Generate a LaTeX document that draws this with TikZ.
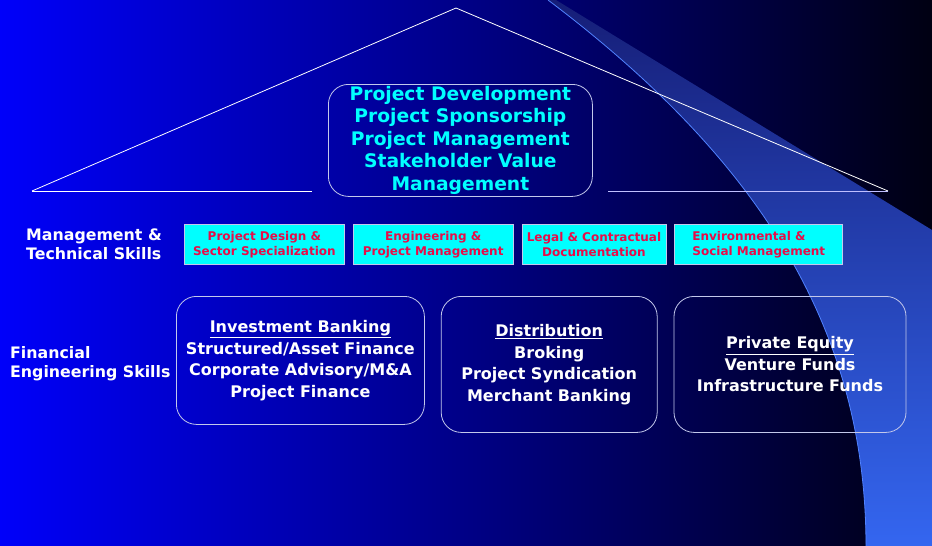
\documentclass[tikz,border=0pt]{standalone}
\usepackage{fontspec}
\setmainfont{DejaVu Sans}
\usetikzlibrary{positioning,calc}
\definecolor{deepblue}{RGB}{0,0,250}
\definecolor{nightblue}{RGB}{0,0,18}
\definecolor{bandlight}{RGB}{52,102,240}
\definecolor{banddark}{RGB}{22,30,120}
\definecolor{bandedge}{RGB}{80,130,255}
\definecolor{skillred}{RGB}{232,12,72}
\definecolor{skillcyan}{RGB}{0,255,255}
\definecolor{rim}{RGB}{195,200,235}
\tikzstyle{roof}=[white, line width=0.8pt]
\tikzstyle{side}=[text=white, inner sep=0pt, align=left, font=\fontsize{15.8}{19}\selectfont\bfseries]
\tikzstyle{skill}=[draw=rim, fill=skillcyan, line width=0.8pt, minimum height=40pt, inner sep=0pt, text=skillred, align=center, font=\fontsize{12}{15}\selectfont\bfseries]
\tikzstyle{field}=[draw=rim, rounded corners=20pt, line width=0.8pt, inner sep=0pt, text=white, align=center, font=\fontsize{16}{21.5}\selectfont\bfseries]

\begin{document}
\begin{tikzpicture}[x=1pt, y=-1pt]
        \useasboundingbox (0,0) rectangle (932,546);
        \shade[left color=deepblue, right color=nightblue] (0,0) rectangle (932,546);
        % curved band on the right
        \shade[top color=banddark, middle color=bandlight, bottom color=bandlight]
            (548,0) .. controls (760,160) and (866,330) .. (866,546) -- (932,546) -- (932,230) -- (556,0) -- cycle;
        \draw[bandedge, line width=0.8pt] (548,0) .. controls (760,160) and (866,330) .. (866,546);
        % roof
        \coordinate (apex) at (456,8);
        \coordinate (eaveL) at (32,191);
        \coordinate (eaveR) at (888,191);
        \coordinate (baseL) at (312,191);
        \coordinate (baseR) at (608,191);
        \draw[roof] (eaveL) -- (apex) -- (eaveR);
        \draw[roof] (eaveL) -- (baseL);
        \draw[roof, white!75!blue] (baseR) -- (eaveR);
        \node (mission) [field, text=skillcyan, minimum width=264pt, minimum height=112pt, anchor=north west, font=\fontsize{18.7}{22.5}\selectfont\bfseries] at (328,84)
            {Project Development\\Project Sponsorship\\Project Management\\Stakeholder Value\\Management};
        % management and technical skills
        \node (mgmt) [side, anchor=west] at (26,244) {Management \&\\Technical Skills};
        \node (design) [skill, minimum width=160pt, anchor=north west] at (184,224) {Project Design \&\\Sector Specialization};
        \node (engineering) [skill, minimum width=160pt, right=8pt of design] {Engineering \&\\Project Management};
        \node (legal) [skill, minimum width=144pt, right=8pt of engineering] {Legal \& Contractual\\Documentation};
        \node (environment) [skill, minimum width=168pt, right=8pt of legal, align=left] {Environmental \&\\Social Management};
        % financial engineering skills
        \node (fin) [side, anchor=west] at (10,364) {Financial\\Engineering Skills};
        \node (banking) [field, minimum width=248pt, minimum height=128pt, anchor=north west] at (176,296)
            {\underline{Investment Banking}\\Structured/Asset Finance\\Corporate Advisory/M\&A\\Project Finance};
        \node (distribution) [field, minimum width=216pt, minimum height=136pt, right=16pt of banking.north east, anchor=north west]
            {\underline{Distribution}\\Broking\\Project Syndication\\Merchant Banking};
        \node (equity) [field, minimum width=232pt, minimum height=136pt, right=16pt of distribution.north east, anchor=north west]
            {\underline{Private Equity}\\Venture Funds\\Infrastructure Funds};
\end{tikzpicture}
\end{document}
